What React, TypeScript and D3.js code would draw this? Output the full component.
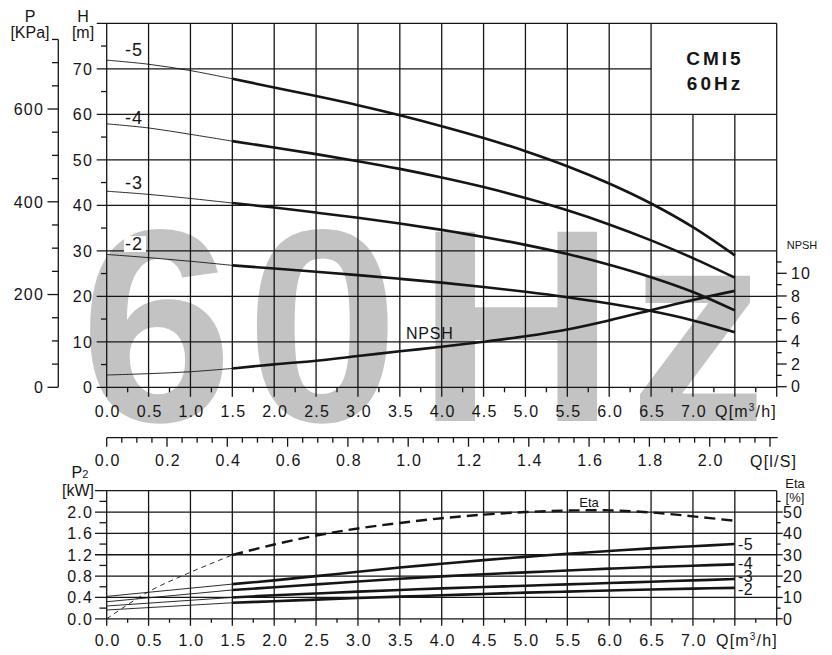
import React from 'react';
import * as d3 from 'd3';

// flow points (m3/h) used by the H and NPSH curves
const qPts = [0, 0.5, 1, 1.5, 2, 2.5, 3, 3.5, 4, 4.5, 5, 5.5, 6, 6.5, 7, 7.5];
const head5 = [71.9, 71.0, 69.6, 67.8, 65.9, 64.0, 62.0, 59.8, 57.4, 54.8, 51.9, 48.6, 44.8, 40.4, 35.2, 29.0];
const head4 = [57.9, 57.0, 55.6, 54.1, 52.7, 51.25, 49.7, 48.0, 46.1, 44.0, 41.6, 38.9, 35.8, 32.3, 28.4, 24.1];
const head3 = [43.1, 42.4, 41.5, 40.5, 39.5, 38.4, 37.25, 36.0, 34.6, 33.05, 31.3, 29.3, 26.95, 24.2, 20.95, 16.9];
const head2 = [29.2, 28.5, 27.7, 26.8, 26.1, 25.4, 24.65, 23.85, 23.0, 22.05, 21.0, 19.8, 18.4, 16.75, 14.7, 12.1];
const npsh = [1.03, 1.15, 1.32, 1.61, 1.97, 2.29, 2.70, 3.12, 3.52, 3.96, 4.45, 5.05, 5.85, 6.75, 7.65, 8.45];

// power curves (kW)
const qP2 = [0, 1.5, 2, 2.5, 3, 3.5, 4, 4.5, 5, 5.5, 6, 6.5, 7, 7.5];
const p2s5 = [0.42, 0.65, 0.72, 0.80, 0.88, 0.96, 1.03, 1.10, 1.16, 1.22, 1.27, 1.32, 1.36, 1.40];
const p2s4 = [0.32, 0.54, 0.59, 0.645, 0.70, 0.75, 0.795, 0.835, 0.87, 0.905, 0.94, 0.97, 0.995, 1.02];
const p2s3 = [0.24, 0.40, 0.44, 0.475, 0.51, 0.54, 0.57, 0.595, 0.62, 0.645, 0.67, 0.695, 0.72, 0.745];
const p2s2 = [0.165, 0.30, 0.33, 0.36, 0.39, 0.415, 0.44, 0.465, 0.49, 0.51, 0.53, 0.55, 0.565, 0.58];
// efficiency (%)
const eta = [0, 12.7, 21.8, 29.9, 34.8, 39.0, 42.3, 44.9, 47.1, 48.8, 50.0, 50.7, 50.8, 49.8, 48.0, 45.9];

const stageNames = ['-5', '-4', '-3', '-2'];

// tick labels
const qTickLabels = [0, 0.5, 1, 1.5, 2, 2.5, 3, 3.5, 4, 4.5, 5, 5.5, 6, 6.5, 7];
const lpsTickLabels = [0, 0.2, 0.4, 0.6, 0.8, 1.0, 1.2, 1.4, 1.6, 1.8, 2.0];
const hTickLabels = [0, 10, 20, 30, 40, 50, 60, 70];
const pTickLabels = [0, 200, 400, 600];
const npshTickLabels = [0, 2, 4, 6, 8, 10];
const p2TickLabels = [0, 0.4, 0.8, 1.2, 1.6, 2.0];
const etaTickLabels = [0, 10, 20, 30, 40, 50];

const FONT = "Arial, 'Liberation Sans', sans-serif";
const INK = '#151515';

export default function App() {
  const x = d3.scaleLinear().domain([0, 8]).range([106.7, 776.7]);
  const xL = d3.scaleLinear().domain([0, 8 / 3.6]).range([106.7, 776.7]);
  const yH = d3.scaleLinear().domain([0, 80]).range([387.3, 23.3]);
  const yP = (kpa: number) => yH(kpa / 9.81);
  const yN = d3.scaleLinear().domain([0, 10]).range([386.7, 273.3]);
  const yB = d3.scaleLinear().domain([0, 2.4]).range([618.8, 490.7]);
  const yE = d3.scaleLinear().domain([0, 60]).range([618.8, 490.7]);

  // thin part up to 1.5 m3/h, thick part after
  const split = (qs: number[], vs: number[], ys: (v: number) => number) => {
    const pts = qs.map((q, i) => [x(q), ys(vs[i])] as [number, number]);
    const line = d3.line().curve(d3.curveCatmullRom.alpha(0.5));
    const thin = pts.filter((_, i) => qs[i] <= 1.5);
    const thick = pts.filter((_, i) => qs[i] >= 1.5);
    return { thin: line(thin) || '', thick: line(thick) || '' };
  };

  const headSeries = [head5, head4, head3, head2].map(h => split(qPts, h, yH));
  const npshPath = split(qPts, npsh, yN);
  const p2Series = [p2s5, p2s4, p2s3, p2s2].map(p => split(qP2, p, yB));
  const etaPath = split(qPts, eta, yE);

  const tickText = { fontFamily: FONT, fontSize: 16, fill: INK, letterSpacing: 1.2 } as const;
  const grid = { stroke: INK, strokeWidth: 1.3 };

  const topGridQ = d3.range(0, 7.51, 0.5);
  const minorQ = d3.range(0.25, 8, 0.5);

  return (
    <div style={{ position: 'absolute', left: 0, top: 0 }}>
      <svg width={832} height={655} style={{ display: 'block', background: '#fff' }}>
        {/* watermark */}
        <text y={421} fontFamily={FONT} fontWeight="bold" fontSize={275} fill="#c3c3c3">
          <tspan x={80}>6</tspan>
          <tspan x={246}>0</tspan>
          <tspan x={417}>H</tspan>
          <tspan x={629}>z</tspan>
        </text>

        {/* ===== top chart grid ===== */}
        {topGridQ.map(q => (
          <line key={'v' + q} x1={x(q)} x2={x(q)} y1={yH(0) + 9.5}
            y2={q > 6.5 ? yH(60) : yH(80)} {...grid} />
        ))}
        <line x1={x(8)} x2={x(8)} y1={yH(80)} y2={yH(0) + 9.5} {...grid} />
        {d3.range(0, 81, 10).map(h => (
          <line key={'h' + h} x1={96.7} x2={h === 70 ? x(6.5) : x(8)} y1={yH(h)} y2={yH(h)} {...grid} />
        ))}
        {d3.range(5, 80, 10).map(h => (
          <line key={'hm' + h} x1={101} x2={x(0)} y1={yH(h)} y2={yH(h)} {...grid} />
        ))}
        {minorQ.map(q => (
          <line key={'qm' + q} x1={x(q)} x2={x(q)} y1={yH(0)} y2={yH(0) + 5} {...grid} />
        ))}
        {hTickLabels.map(h => (
          <text key={'hl' + h} x={93} y={yH(h)} dy="0.36em" textAnchor="end" {...tickText}>{h}</text>
        ))}
        <text x={83} y={22} textAnchor="middle" fontFamily={FONT} fontSize={16} fill={INK}>H</text>
        <text x={83} y={38} textAnchor="middle" fontFamily={FONT} fontSize={16} fill={INK}>[m]</text>

        {/* P axis */}
        <line x1={58.3} x2={58.3} y1={yP(750)} y2={yP(0)} {...grid} />
        {d3.range(0, 751, 50).map(p => (
          <line key={'p' + p} x1={p % 200 === 0 ? 47.5 : 52} x2={58.3} y1={yP(p)} y2={yP(p)} {...grid} />
        ))}
        {pTickLabels.map(p => (
          <text key={'pl' + p} x={44} y={yP(p)} dy="0.36em" textAnchor="end" {...tickText}>{p}</text>
        ))}
        <text x={30} y={22} textAnchor="middle" fontFamily={FONT} fontSize={16} fill={INK}>P</text>
        <text x={30} y={38} textAnchor="middle" fontFamily={FONT} fontSize={16} fill={INK}>[KPa]</text>

        {/* NPSH axis */}
        {d3.range(0, 12, 1).map(n => (
          <line key={'n' + n} x1={x(8)} x2={x(8) + (n % 2 === 0 ? 10 : 5)} y1={yN(n)} y2={yN(n)} {...grid} />
        ))}
        {npshTickLabels.map(n => (
          <text key={'nl' + n} x={791} y={yN(n)} dy="0.36em" {...tickText}>{n}</text>
        ))}
        <text x={802} y={245} dy="0.36em" textAnchor="middle" fontFamily={FONT} fontSize={11} fill={INK}>NPSH</text>

        {/* Q axis labels */}
        {qTickLabels.map(q => (
          <text key={'ql' + q} x={x(q) + 1} y={411} dy="0.36em" textAnchor="middle" {...tickText}>{q.toFixed(1)}</text>
        ))}
        <text x={777} y={411} dy="0.36em" textAnchor="end" {...tickText}>Q[m<tspan fontSize={10} dy="-6">3</tspan><tspan dy="6">/h]</tspan></text>

        {/* title box */}
        <text x={715} y={58} dy="0.36em" textAnchor="middle" fontFamily={FONT} fontWeight="bold" fontSize={19} letterSpacing={3} fill={INK}>CMI5</text>
        <text x={715} y={83} dy="0.36em" textAnchor="middle" fontFamily={FONT} fontWeight="bold" fontSize={19} letterSpacing={3} fill={INK}>60Hz</text>

        {/* head curves */}
        {headSeries.map((s, i) => (
          <g key={'hs' + i} fill="none" stroke={INK}>
            <path d={s.thin} strokeWidth={0.9} />
            <path d={s.thick} strokeWidth={2.6} />
          </g>
        ))}
        <g fill="none" stroke={INK}>
          <path d={npshPath.thin} strokeWidth={0.9} />
          <path d={npshPath.thick} strokeWidth={2.6} />
        </g>
        <rect x={124} y={236} width={22} height={16} fill="#fff" />
        {stageNames.map((s, i) => (
          <text key={'sl' + i} x={125} y={[50, 118, 183, 244][i]} dy="0.36em" fontFamily={FONT} fontSize={18} letterSpacing={1} fill={INK}>{s}</text>
        ))}
        <text x={406} y={333} dy="0.36em" fontFamily={FONT} fontSize={16} letterSpacing={0.8} fill={INK}>NPSH</text>

        {/* ===== l/s axis ===== */}
        <line x1={xL(0)} x2={x(8) + 1} y1={437.7} y2={437.7} {...grid} />
        {d3.range(0, 2.2001, 0.05).map((l, i) => (
          <line key={'l' + i} x1={xL(l)} x2={xL(l)} y1={437.7} y2={437.7 + (i % 4 === 0 ? 9 : 5)} {...grid} />
        ))}
        {lpsTickLabels.map(l => (
          <text key={'ll' + l} x={xL(l) + 1} y={460} dy="0.36em" textAnchor="middle" {...tickText}>{l.toFixed(1)}</text>
        ))}
        <text x={750} y={461} dy="0.36em" {...tickText}>Q[l/S]</text>

        {/* ===== bottom chart ===== */}
        {topGridQ.map(q => (
          <line key={'bv' + q} x1={x(q)} x2={x(q)} y1={yB(0) + 7} y2={yB(2.4)} {...grid} />
        ))}
        <line x1={x(8)} x2={x(8)} y1={yB(2.4)} y2={yB(0) + 7} {...grid} />
        {d3.range(0, 2.41, 0.4).map((p, i) => (
          <line key={'bh' + i} x1={95} x2={x(8)} y1={yB(p)} y2={yB(p)} {...grid} />
        ))}
        {d3.range(0.2, 2.3, 0.4).map((p, i) => (
          <line key={'bhm' + i} x1={99.5} x2={x(0)} y1={yB(p)} y2={yB(p)} {...grid} />
        ))}
        {minorQ.map(q => (
          <line key={'bqm' + q} x1={x(q)} x2={x(q)} y1={yB(0)} y2={yB(0) + 4} {...grid} />
        ))}
        {d3.range(0, 56, 5).map(e => (
          <line key={'e' + e} x1={x(8)} x2={x(8) + (e % 10 === 0 ? 6 : 4)} y1={yE(e)} y2={yE(e)} {...grid} />
        ))}
        {p2TickLabels.map(p => (
          <text key={'p2l' + p} x={93} y={yB(p)} dy="0.36em" textAnchor="end" {...tickText}>{p.toFixed(1)}</text>
        ))}
        {etaTickLabels.map(e => (
          <text key={'el' + e} x={783} y={yE(e)} dy="0.36em" {...tickText}>{e}</text>
        ))}
        {qTickLabels.map(q => (
          <text key={'bql' + q} x={x(q) + 1} y={640} dy="0.36em" textAnchor="middle" {...tickText}>{q.toFixed(1)}</text>
        ))}
        <text x={778} y={640} dy="0.36em" textAnchor="end" {...tickText}>Q[m<tspan fontSize={10} dy="-6">3</tspan><tspan dy="6">/h]</tspan></text>
        <text x={80} y={472} dy="0.36em" textAnchor="middle" fontFamily={FONT} fontSize={16} fill={INK}>P<tspan fontSize={11}>2</tspan></text>
        <text x={78} y={490} dy="0.36em" textAnchor="middle" fontFamily={FONT} fontSize={16} fill={INK}>[kW]</text>
        <text x={795} y={483} dy="0.36em" textAnchor="middle" fontFamily={FONT} fontSize={13} fill={INK}>Eta</text>
        <text x={795} y={497} dy="0.36em" textAnchor="middle" fontFamily={FONT} fontSize={13} fill={INK}>[%]</text>

        {p2Series.map((s, i) => (
          <g key={'ps' + i} fill="none" stroke={INK}>
            <path d={s.thin} strokeWidth={0.9} />
            <path d={s.thick} strokeWidth={2.6} />
          </g>
        ))}
        <g fill="none" stroke={INK}>
          <path d={etaPath.thin} strokeWidth={0.9} strokeDasharray="5,4" />
          <path d={etaPath.thick} strokeWidth={2.4} strokeDasharray="11,6" />
        </g>
        <text x={589} y={502} dy="0.36em" textAnchor="middle" fontFamily={FONT} fontSize={13} fill={INK}>Eta</text>
        {stageNames.map((s, i) => (
          <text key={'bsl' + i} x={738} y={[544, 563, 576, 589][i]} dy="0.36em" fontFamily={FONT} fontSize={16} letterSpacing={0.5} fill={INK}>{s}</text>
        ))}
      </svg>
    </div>
  );
}
